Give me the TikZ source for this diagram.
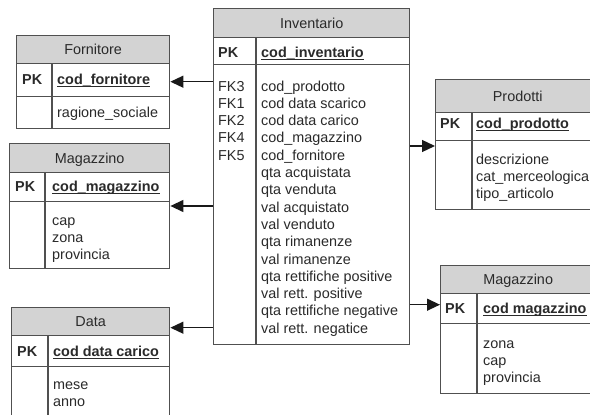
\documentclass[tikz,border=0pt]{standalone}
\usepackage{fontspec}
\setmainfont{Liberation Sans}
\usetikzlibrary{arrows.meta}
\definecolor{hdrgray}{HTML}{D3D3D3}
\definecolor{edgegray}{HTML}{505050}
\definecolor{inkgray}{HTML}{2A2A2A}
\newcommand\erfont{\fontsize{14.4}{17.3}\selectfont}
\begin{document}
\begin{tikzpicture}[x=1pt,y=-1pt,
  every node/.style={font=\erfont, text=inkgray},
  cell/.style={draw=edgegray, line width=1.4pt, anchor=north west, inner sep=0pt, fill=white},
  hdr/.style={cell, fill=hdrgray, text height=10.3pt, text depth=0pt},
  lbl/.style={anchor=base west, inner sep=0pt},
  pk/.style={lbl, font=\erfont\bfseries},
  uline/.style={draw=inkgray, line width=1.1pt},
  divider/.style={draw=edgegray, line width=1.4pt},
  conn/.style={draw=black!90, line width=1.3pt, -{Triangle[length=13pt,width=12pt]}}]
\useasboundingbox (0,0) rectangle (590,415);

% ---------- Fornitore ----------
\node[hdr, minimum width=153pt, minimum height=28pt] (fornH) at (16,35) {Fornitore};
\node[cell, minimum width=153pt, minimum height=33pt] (fornK) at (16,63) {};
\node[cell, minimum width=153pt, minimum height=32pt] (fornB) at (16,96) {};
\draw[divider] ([xshift=36pt]fornK.north west) -- ([xshift=36pt]fornB.south west);
\node[pk] (fornpk) at (22,84) {PK};
\node[pk] (fornkey) at (57,84) {cod\_fornitore};
\draw[uline] ([yshift=-2.5pt]fornkey.base west) -- ([yshift=-2.5pt]fornkey.base east);
\node[lbl] (forna1) at (57,117) {ragione\_sociale};

% ---------- Magazzino (left) ----------
\node[hdr, minimum width=160pt, minimum height=29pt] (magLH) at (9,143) {Magazzino};
\node[cell, minimum width=160pt, minimum height=29pt] (magLK) at (9,172) {};
\node[cell, minimum width=160pt, minimum height=67pt] (magLB) at (9,201) {};
\draw[divider] ([xshift=36pt]magLK.north west) -- ([xshift=36pt]magLB.south west);
\node[pk] (magLpk) at (15,191) {PK};
\node[pk] (magLkey) at (52,191) {cod\_magazzino};
\draw[uline] ([yshift=-2.5pt]magLkey.base west) -- ([yshift=-2.5pt]magLkey.base east);
\foreach \t [count=\i from 0] in {cap, zona, provincia}
  \node[lbl] (magLa\i) at (52,225+17.3*\i) {\t};

% ---------- Data ----------
\node[hdr, minimum width=158pt, minimum height=28pt] (dataH) at (11,307) {Data};
\node[cell, minimum width=158pt, minimum height=31pt] (dataK) at (11,335) {};
\node[cell, minimum width=158pt, minimum height=64pt] (dataB) at (11,366) {};
\draw[divider] ([xshift=37pt]dataK.north west) -- ([xshift=37pt]dataB.south west);
\node[pk] (datapk) at (17,356) {PK};
\node[pk] (datakey) at (53,356) {cod data carico};
\draw[uline] ([yshift=-2.5pt]datakey.base west) -- ([yshift=-2.5pt]datakey.base east);
\foreach \t [count=\i from 0] in {mese, anno}
  \node[lbl] (dataa\i) at (53,389+17.3*\i) {\t};

% ---------- Inventario ----------
\node[hdr, minimum width=196pt, minimum height=29pt] (invH) at (213,8) {Inventario};
\node[cell, minimum width=196pt, minimum height=27pt] (invK) at (213,37) {};
\node[cell, minimum width=196pt, minimum height=280pt] (invB) at (213,64) {};
\draw[divider] ([xshift=43pt]invK.north west) -- ([xshift=43pt]invB.south west);
\node[pk] (invpk) at (218,57) {PK};
\node[pk] (invkey) at (261,57) {cod\_inventario};
\draw[uline] ([yshift=-2.5pt]invkey.base west) -- ([yshift=-2.5pt]invkey.base east);
\foreach \t [count=\i from 0] in {FK3, FK1, FK2, FK4, FK5}
  \node[lbl] (invfk\i) at (218,91+17.3*\i) {\t};
\foreach \t [count=\i from 0] in {cod\_prodotto, cod data scarico, cod data carico,
    cod\_magazzino, cod\_fornitore, qta acquistata, qta venduta, val acquistato,
    val venduto, qta rimanenze, val rimanenze, qta rettifiche positive,
    val rett. positive, qta rettifiche negative, val rett. negatice}
  \node[lbl] (inva\i) at (261,91+17.3*\i) {\t};

% ---------- Prodotti ----------
\node[hdr, minimum width=164pt, minimum height=33pt] (prodH) at (435,79) {Prodotti};
\node[cell, minimum width=164pt, minimum height=28pt] (prodK) at (435,112) {};
\node[cell, minimum width=164pt, minimum height=69pt] (prodB) at (435,140) {};
\draw[divider] ([xshift=37pt]prodK.north west) -- ([xshift=37pt]prodB.south west);
\node[pk] (prodpk) at (440,128) {PK};
\node[pk] (prodkey) at (476,128) {cod\_prodotto};
\draw[uline] ([yshift=-2.5pt]prodkey.base west) -- ([yshift=-2.5pt]prodkey.base east);
\foreach \t [count=\i from 0] in {descrizione, cat\_merceologica, tipo\_articolo}
  \node[lbl] (proda\i) at (476,164+17.3*\i) {\t};

% ---------- Magazzino (right) ----------
\node[hdr, minimum width=155pt, minimum height=28pt] (magRH) at (440,265) {Magazzino};
\node[cell, minimum width=155pt, minimum height=30pt] (magRK) at (440,293) {};
\node[cell, minimum width=155pt, minimum height=70pt] (magRB) at (440,323) {};
\draw[divider] ([xshift=37pt]magRK.north west) -- ([xshift=37pt]magRB.south west);
\node[pk] (magRpk) at (445,313) {PK};
\node[pk] (magRkey) at (483,313) {cod magazzino};
\draw[uline] ([yshift=-2.5pt]magRkey.base west) -- ([yshift=-2.5pt]magRkey.base east);
\foreach \t [count=\i from 0] in {zona, cap, provincia}
  \node[lbl] (magRa\i) at (483,348+17.3*\i) {\t};

% ---------- relationships ----------
\coordinate (fornin) at ([yshift=-1.5pt]fornK.east);
\coordinate (magLin) at ([yshift=-5pt]magLB.north east);
\coordinate (datain) at ([yshift=-6pt]dataH.east);
\coordinate (prodin) at ([yshift=-6pt]prodB.north west);
\coordinate (magRin) at ([yshift=4pt]magRK.west);
\draw[conn] (invB.west |- fornin) -- (fornin);
\draw[conn] (invB.west |- magLin) -- (magLin);
\draw[conn] (invB.west |- datain) -- (datain);
\draw[conn] (invB.east |- prodin) -- (prodin);
\draw[conn] (invB.east |- magRin) -- (magRin);
\end{tikzpicture}
\end{document}
